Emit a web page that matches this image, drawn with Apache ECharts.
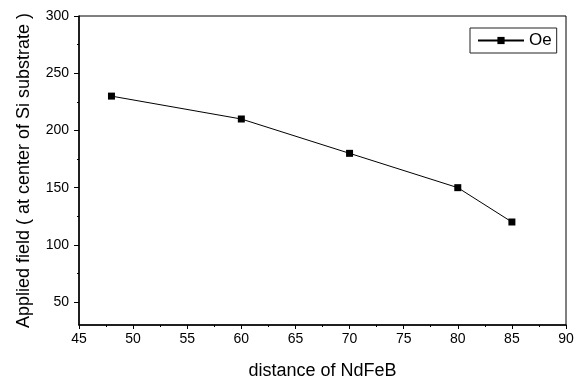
<!DOCTYPE html>
<html><head><meta charset="utf-8">
<script src="https://cdn.jsdelivr.net/npm/echarts@6/dist/echarts.min.js"></script>
<style>html,body{margin:0;padding:0;background:#fff}#c{width:587px;height:379px}</style>
</head><body><div id="c"></div>
<script>
const distances = [48, 60, 70, 80, 85];
const fieldOe = [230, 210, 180, 150, 120];
const seriesName = 'Oe';
const xName = 'distance of NdFeB';
const yName = 'Applied field ( at center of Si substrate )';
const yMajorTicks = [50, 100, 150, 200, 250, 300];
const yMinorTicks = [75, 125, 175, 225, 275];

const chart = echarts.init(document.getElementById('c'), null, {renderer: 'canvas'});
const font = 'Liberation Sans, Arial, sans-serif';
chart.setOption({
  animation: false,
  backgroundColor: '#fff',
  grid: {left: 79, right: 21, top: 16, bottom: 54, show: true, borderColor: '#000', borderWidth: 1,
    outerBoundsMode: 'none', containLabel: false},
  legend: {
    left: 470, top: 28, orient: 'vertical',
    data: [seriesName],
    itemWidth: 46, itemHeight: 9,
    borderColor: '#222', borderWidth: 1, borderRadius: 0,
    padding: [4, 5, 4, 7],
    textStyle: {fontFamily: font, fontSize: 17, color: '#000'}
  },
  xAxis: {
    type: 'value', min: 45, max: 90, interval: 5,
    name: xName, nameLocation: 'middle', nameGap: 37,
    nameTextStyle: {fontFamily: font, fontSize: 18, color: '#000'},
    axisLine: {show: true, onZero: false, lineStyle: {color: '#000', width: 1.5}},
    axisTick: {show: true, length: 4, lineStyle: {color: '#000'}},
    minorTick: {show: true, splitNumber: 2, length: 2, lineStyle: {color: '#000'}},
    axisLabel: {fontFamily: font, fontSize: 14, color: '#000', margin: 7},
    splitLine: {show: false}
  },
  yAxis: [{
    type: 'value', min: 30, max: 300,
    name: yName, nameLocation: 'middle', nameGap: 46,
    nameTextStyle: {fontFamily: font, fontSize: 18, color: '#000'},
    axisLine: {show: true, onZero: false, lineStyle: {color: '#000', width: 1.5}},
    axisTick: {show: true, length: 5, customValues: yMajorTicks, lineStyle: {color: '#000'}},
    axisLabel: {fontFamily: font, fontSize: 14, color: '#000', margin: 10, customValues: yMajorTicks},
    splitLine: {show: false}
  }, {
    type: 'value', min: 30, max: 300, position: 'left',
    axisLine: {show: false},
    axisTick: {show: true, length: 2, customValues: yMinorTicks, lineStyle: {color: '#000'}},
    axisLabel: {show: false},
    splitLine: {show: false}
  }],
  series: [{
    name: seriesName, type: 'line',
    data: distances.map((d, i) => [d, fieldOe[i]]),
    symbol: 'rect', symbolSize: 7,
    lineStyle: {color: '#000', width: 1},
    itemStyle: {color: '#000'}
  }]
});
</script></body></html>
